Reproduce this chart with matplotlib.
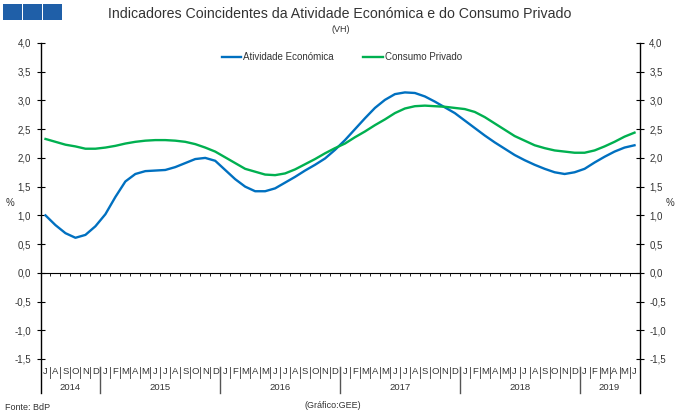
import numpy as np
import matplotlib
matplotlib.use("Agg")
import matplotlib.pyplot as plt
from matplotlib.patches import Rectangle

plt.rcParams['font.family'] = ['Liberation Sans', 'DejaVu Sans']

# monthly data, Jul 2014 - Jun 2019
atividade = [1.00, 0.83, 0.69, 0.61, 0.66, 0.81,
             1.02, 1.32, 1.59, 1.72, 1.77, 1.78, 1.79, 1.84, 1.91, 1.98, 2.00, 1.95,
             1.79, 1.63, 1.50, 1.42, 1.42, 1.47, 1.57, 1.67, 1.78, 1.88, 1.99, 2.14,
             2.31, 2.50, 2.69, 2.87, 3.01, 3.11, 3.14, 3.13, 3.07, 2.98, 2.88, 2.78,
             2.65, 2.52, 2.39, 2.27, 2.16, 2.05, 1.96, 1.88, 1.81, 1.75, 1.72, 1.75,
             1.81, 1.92, 2.02, 2.11, 2.18, 2.22]
consumo = [2.33, 2.28, 2.23, 2.20, 2.16, 2.16,
           2.18, 2.21, 2.25, 2.28, 2.30, 2.31, 2.31, 2.30, 2.28, 2.24, 2.18, 2.11,
           2.01, 1.91, 1.81, 1.76, 1.71, 1.70, 1.73, 1.80, 1.89, 1.98, 2.08, 2.17,
           2.25, 2.36, 2.46, 2.57, 2.67, 2.78, 2.86, 2.90, 2.91, 2.90, 2.89, 2.87,
           2.85, 2.80, 2.71, 2.60, 2.49, 2.38, 2.30, 2.22, 2.17, 2.13, 2.11, 2.09,
           2.09, 2.13, 2.20, 2.28, 2.37, 2.44]
meses = list("JASOND") + list("JFMAMJJASOND") * 4 + list("JFMAMJ")
anos = ["2014", "2015", "2016", "2017", "2018", "2019"]
anos_centro = [3, 12, 24, 36, 48, 57]
yticks = np.arange(-1.5, 4.01, 0.5)

azul = "#0070C0"
verde = "#00B050"
cinza = "#333333"

fig = plt.figure(figsize=(6.8, 4.2), dpi=100)
ax = fig.add_axes([40.5 / 680, 1 - 359 / 420, 599 / 680, 316 / 420])

x = np.arange(len(atividade)) + 0.5
ax.plot(x, atividade, color=azul, lw=1.7, label="Atividade Económica")
ax.plot(x, consumo, color=verde, lw=1.7, label="Consumo Privado")

ax.set_xlim(0, 60)
ax.set_ylim(-1.5, 4.0)
for s in ax.spines.values():
    s.set_visible(False)
ax.set_xticks([])
ax.set_yticks(yticks)
ax.set_yticklabels([f"{v:.1f}".replace(".", ",") for v in yticks])
ax.tick_params(axis="y", direction="inout", length=6, width=0.8, color="black",
               labelsize=7, labelcolor=cinza, left=True, right=True,
               labelleft=True, labelright=True, pad=4)

# zero line with small month ticks
ax.axhline(0, color="black", lw=0.8)
ax.vlines(np.arange(1, 60), -0.05, 0, color="black", lw=0.6)

# vertical axis lines extending into the label area
ybot = -34 / 316
for xa in (0, 1):
    ax.plot([xa, xa], [ybot, 1], transform=ax.transAxes, color="black",
            lw=1.0, clip_on=False)

# month labels and separators
tr = ax.get_xaxis_transform()
for i, m in enumerate(meses):
    ax.text(i + 0.5, -13 / 316, m, transform=tr, ha="center", va="center",
            fontsize=6.8, color=cinza)
for k in range(1, 60):
    if meses[k] == "J" and meses[k - 1] == "D":
        ax.plot([k, k], [-8 / 316, ybot], transform=tr, color="#555555",
                lw=1.0, clip_on=False)
    else:
        ax.plot([k, k], [-8 / 316, -19 / 316], transform=tr, color="#555555",
                lw=0.7, clip_on=False)
for a, c in zip(anos, anos_centro):
    ax.text(c, -29 / 316, a, transform=tr, ha="center", va="center",
            fontsize=6.8, color=cinza)

ax.legend(loc="center", bbox_to_anchor=(0.503, 0.956), ncol=2, frameon=False,
          fontsize=7, handlelength=2.0, handletextpad=0.2, columnspacing=3.0,
          labelcolor=cinza)

fig.text(10 / 680, 1 - 203 / 420, "%", fontsize=7, color=cinza, ha="center", va="center")
fig.text(670 / 680, 1 - 203 / 420, "%", fontsize=7, color=cinza, ha="center", va="center")

fig.text(0.5, 1 - 14 / 420,
         "Indicadores Coincidentes da Atividade Económica e do Consumo Privado",
         fontsize=10.2, color=cinza, ha="center", va="center")
fig.text(341 / 680, 1 - 30 / 420, "(VH)", fontsize=6.5, color=cinza,
         ha="center", va="center")
fig.text(5 / 680, 1 - 407 / 420, "Fonte: BdP", fontsize=6.5, color=cinza,
         ha="left", va="center")
fig.text(333 / 680, 1 - 405 / 420, "(Gráfico:GEE)", fontsize=6.5, color=cinza,
         ha="center", va="center")

# header squares
for x0 in (3.0, 23.0, 43.0):
    fig.patches.append(Rectangle((x0 / 680, 1 - 19.5 / 420), 18.5 / 680, 15.5 / 420,
                                 transform=fig.transFigure, facecolor="#1F5FA8",
                                 edgecolor="none", lw=0))

fig.savefig("out.png", dpi=100)
